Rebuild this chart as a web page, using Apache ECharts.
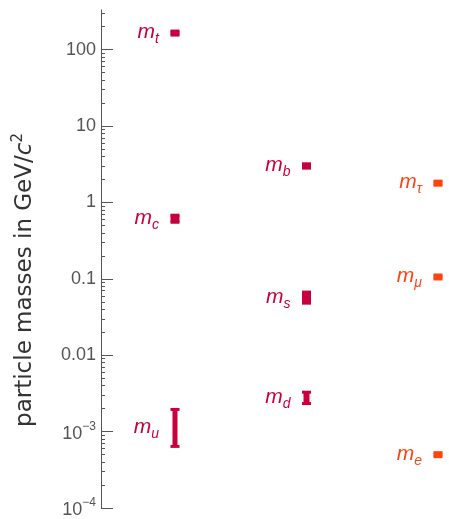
<!DOCTYPE html>
<html><head><meta charset="utf-8">
<script src="https://cdn.jsdelivr.net/npm/echarts@6/dist/echarts.min.js"></script>
<style>html,body{margin:0;padding:0;background:#fff}#c{width:449px;height:519px}</style>
</head><body><div id="c"></div>
<script>
// ---- data ----
const particles = ['t', 'c', 'u', 'b', 's', 'd', 'τ', 'μ', 'e'];
const families  = ['quark','quark','quark','quark','quark','quark','lepton','lepton','lepton'];
const columns   = [1, 1, 1, 2, 2, 2, 3, 3, 3];
const lowMass   = [155, 0.55, 0.00064, 2.81, 0.048, 0.00233, 1.68, 0.0995, 0.00047];
const highMass  = [175, 0.68, 0.00195, 3.2, 0.067, 0.00328, 1.90, 0.1122, 0.00053];
const majorTicks = [1e-4, 1e-3, 0.01, 0.1, 1, 10, 100];
const majorTickLabels = ['10^-4', '10^-3', '0.01', '0.1', '1', '10', '100'];
const yMin = 1e-4, yMax = 330;

// ---- styling ----
const quarkColor = '#c8003e';
const leptonColor = '#ff4412';
const axisColor = '#555555';
const stemWidthFor = { u: 5, d: 6 };

const minorTicks = [];
for (let k = -4; k <= 2; k++) {
  for (let m = 2; m <= 9; m++) {
    const v = Number((m * Math.pow(10, k)).toPrecision(6));
    if (v >= yMin && v <= yMax) minorTicks.push(v);
  }
}

const seriesData = particles.map((p, i) => [columns[i], lowMass[i], highMass[i]]);

function tickLabel(value) {
  let best = 0;
  for (let i = 0; i < majorTicks.length; i++) {
    if (Math.abs(Math.log10(value) - Math.log10(majorTicks[i])) < Math.abs(Math.log10(value) - Math.log10(majorTicks[best]))) best = i;
  }
  const t = majorTickLabels[best];
  if (t.indexOf('^') >= 0) {
    const parts = t.split('^');
    return '{base|' + parts[0] + '}{sup|' + parts[1].replace('-', '\u2212') + '}';
  }
  return '{plain|' + t + '}';
}

const chart = echarts.init(document.getElementById('c'), null, { renderer: 'canvas' });
chart.setOption({
  animation: false,
  grid: { left: 101, right: 0, top: 10, bottom: 11 },
  xAxis: { type: 'value', min: 0.4373, max: 3.0837, show: false },
  yAxis: [{
    type: 'log', logBase: 10, min: yMin, max: yMax, position: 'left',
    axisLine: { show: true, lineStyle: { color: axisColor, width: 1 } },
    axisTick: { show: true, inside: true, length: 12, lineStyle: { color: axisColor, width: 1 }, customValues: majorTicks },
    axisLabel: {
      show: true, customValues: majorTicks, margin: 5, formatter: tickLabel,
      rich: {
        plain: { fontSize: 18, fontFamily: 'Liberation Sans', color: axisColor },
        base: { fontSize: 18, fontFamily: 'Liberation Sans', color: axisColor, lineHeight: 22, verticalAlign: 'bottom' },
        sup: { fontSize: 12, fontFamily: 'Liberation Sans', color: axisColor, lineHeight: 12, verticalAlign: 'top' }
      }
    },
    splitLine: { show: false },
    name: '{a|particle masses in GeV/}{i|c}{s|2}',
    nameLocation: 'middle', nameRotate: 90, nameGap: 64,
    nameTextStyle: {
      padding: [0, 42, 0, 0],
      rich: {
        a: { fontSize: 23, fontFamily: 'DejaVu Sans', color: '#333', lineHeight: 26, verticalAlign: 'bottom' },
        i: { fontSize: 23, fontFamily: 'DejaVu Sans', fontStyle: 'italic', color: '#333', lineHeight: 26, verticalAlign: 'bottom' },
        s: { fontSize: 15, fontFamily: 'DejaVu Sans', color: '#333', lineHeight: 15, verticalAlign: 'top' }
      }
    }
  }, {
    type: 'log', logBase: 10, min: yMin, max: yMax, position: 'left',
    axisLine: { show: false },
    axisTick: { show: true, inside: true, length: 4, lineStyle: { color: axisColor, width: 1 }, customValues: minorTicks },
    axisLabel: { show: false },
    splitLine: { show: false }
  }],
  series: [{
    type: 'custom',
    coordinateSystem: 'cartesian2d',
    xAxisIndex: 0, yAxisIndex: 0,
    clip: false,
    encode: { x: 0, y: [1, 2] },
    data: seriesData,
    renderItem: function (params, api) {
      const i = params.dataIndex;
      const pLo = api.coord([api.value(0), api.value(1)]);
      const pHi = api.coord([api.value(0), api.value(2)]);
      const color = families[i] === 'quark' ? quarkColor : leptonColor;
      const cx = pLo[0];
      const capW = 9, capH = 3;
      const stemW = stemWidthFor[particles[i]] || 9;
      const yTop = pHi[1], yBot = pLo[1];
      const name = particles[i];
      return {
        type: 'group',
        children: [
          { type: 'rect', shape: { x: cx - stemW / 2, y: yTop, width: stemW, height: yBot - yTop }, style: { fill: color } },
          { type: 'rect', shape: { x: cx - capW / 2, y: yTop - capH / 2, width: capW, height: capH }, style: { fill: color } },
          { type: 'rect', shape: { x: cx - capW / 2, y: yBot - capH / 2, width: capW, height: capH }, style: { fill: color } },
          {
            type: 'text', x: cx - 16, y: (yTop + yBot) / 2 + 1,
            style: {
              text: '{m|m}{s|' + name + '}', align: 'right', verticalAlign: 'middle',
              rich: {
                m: { fontSize: 21, fontFamily: 'Liberation Sans', fontStyle: 'italic', fill: color, lineHeight: 24, verticalAlign: 'top' },
                s: { fontSize: 14, fontFamily: 'Liberation Sans', fontStyle: 'italic', fill: color, lineHeight: 14, verticalAlign: 'bottom' }
              }
            }
          }
        ]
      };
    }
  }]
});
</script>
</body></html>
